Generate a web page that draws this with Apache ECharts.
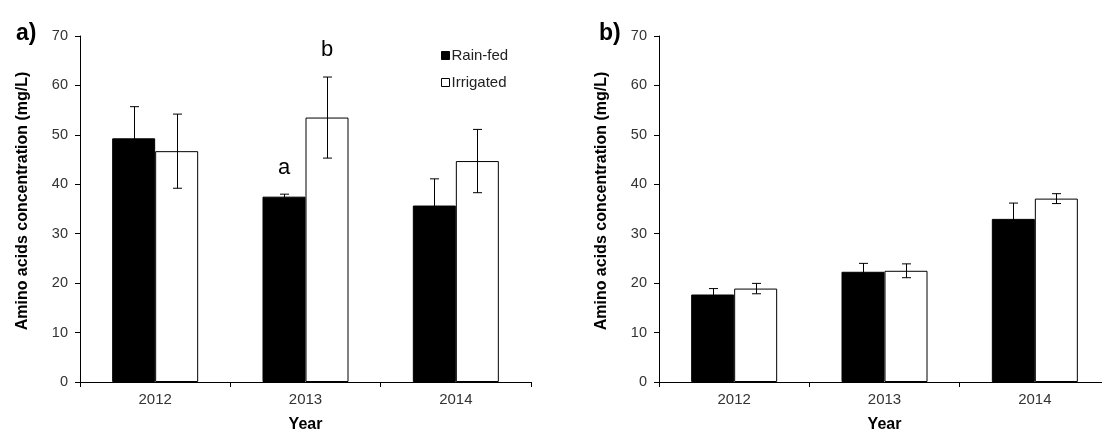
<!DOCTYPE html>
<html>
<head>
<meta charset="utf-8">
<script src="https://cdn.jsdelivr.net/npm/echarts@6/dist/echarts.min.js"></script>
<style>
  html, body { margin: 0; padding: 0; background: #fff; }
  #chart { width: 1102px; height: 431px; }
</style>
</head>
<body>
<div id="chart"></div>
<script>
// 数据
const years = ['2012', '2013', '2014'];
const rainfedA = [49.3, 37.5, 35.7];
const rainfedErrA = [6.4, 0.5, 5.4];
const irrigatedA = [46.7, 53.5, 44.7];
const irrigatedErrA = [7.5, 8.2, 6.4];
const rainfedB = [17.7, 22.3, 33.0];
const rainfedErrB = [1.2, 1.7, 3.2];
const irrigatedB = [18.9, 22.5, 37.1];
const irrigatedErrB = [1.05, 1.4, 1.0];
// 显著性字母 [年份索引, 值, 字母, 系列]
const lettersA = [[1, 43.3, 'a', 0], [1, 67.1, 'b', 1]];
const yTicks = [0, 10, 20, 30, 40, 50, 60, 70];

const chart = echarts.init(document.getElementById('chart'));
const FONT = 'Liberation Sans, Arial, sans-serif';
const BAR_W = 43;

function errorSeries(vals, errs, side, gi) {
  return {
    type: 'custom',
    xAxisIndex: gi,
    yAxisIndex: gi,
    z: 5,
    silent: true,
    renderItem: function (params, api) {
      const i = api.value(0);
      const top = api.coord([i, api.value(1) + api.value(2)]);
      const bot = api.coord([i, api.value(1) - api.value(2)]);
      const x = Math.round(top[0] + side * BAR_W / 2) + 0.5;
      const cap = 4.5;
      const st = { stroke: '#000', lineWidth: 1 };
      return {
        type: 'group',
        children: [
          { type: 'line', shape: { x1: x, y1: top[1], x2: x, y2: bot[1] }, style: st },
          { type: 'line', shape: { x1: x - cap, y1: top[1], x2: x + cap, y2: top[1] }, style: st },
          { type: 'line', shape: { x1: x - cap, y1: bot[1], x2: x + cap, y2: bot[1] }, style: st }
        ]
      };
    },
    encode: { x: 0, y: 1 },
    data: vals.map((v, i) => [i, v, errs[i]])
  };
}

function barSeries(name, vals, color, gi) {
  return {
    name: name,
    type: 'bar',
    xAxisIndex: gi,
    yAxisIndex: gi,
    barWidth: BAR_W,
    barGap: '0%',
    itemStyle: { color: color, borderColor: '#000', borderWidth: 1 },
    data: vals
  };
}

const axisLine = { show: true, lineStyle: { color: '#000', width: 1 } };

function xAxis(gi) {
  return {
    type: 'category',
    gridIndex: gi,
    data: years,
    name: 'Year',
    nameLocation: 'middle',
    nameGap: 35,
    nameTextStyle: { fontFamily: FONT, fontSize: 16, fontWeight: 'bold', color: '#000' },
    axisLine: axisLine,
    axisTick: { show: true, length: 5, inside: false, lineStyle: { color: '#000' } },
    axisLabel: { fontFamily: FONT, fontSize: 15, color: '#333', margin: 10 },
    splitLine: { show: false }
  };
}

function yAxis(gi) {
  return {
    type: 'value',
    gridIndex: gi,
    min: 0,
    max: 70,
    interval: 10,
    name: 'Amino acids concentration (mg/L)',
    nameLocation: 'middle',
    nameGap: 49,
    nameTextStyle: {
      fontFamily: FONT, fontSize: 16, fontWeight: 'bold', color: '#000',
      padding: [0, 0, 0, 16]
    },
    axisLine: axisLine,
    axisTick: { show: true, length: 5, lineStyle: { color: '#000' } },
    axisLabel: {
      fontFamily: FONT, fontSize: 14.5, color: '#333', margin: 12,
      formatter: v => yTicks.indexOf(v) >= 0 ? String(v) : ''
    },
    splitLine: { show: false }
  };
}

const option = {
  animation: false,
  backgroundColor: '#fff',
  title: [
    { text: 'a)', left: 11, top: 17, textStyle: { fontFamily: FONT, fontSize: 23, fontWeight: 'bold', color: '#000' } },
    { text: 'b)', left: 594, top: 17, textStyle: { fontFamily: FONT, fontSize: 23, fontWeight: 'bold', color: '#000' } }
  ],
  legend: {
    data: ['Rain-fed', 'Irrigated'],
    orient: 'vertical',
    left: 436,
    top: 43,
    itemWidth: 8,
    itemHeight: 8,
    itemGap: 12,
    icon: 'rect',
    textStyle: { fontFamily: FONT, fontSize: 15, color: '#222', padding: [0, 0, 0, -3] },
    itemStyle: { borderColor: '#000', borderWidth: 1 }
  },
  grid: [
    { left: 80, top: 36, width: 451, height: 346, outerBoundsMode: 'none' },
    { left: 659, top: 36, width: 451, height: 346, outerBoundsMode: 'none' }
  ],
  xAxis: [xAxis(0), xAxis(1)],
  yAxis: [yAxis(0), yAxis(1)],
  series: [
    barSeries('Rain-fed', rainfedA, '#000', 0),
    barSeries('Irrigated', irrigatedA, '#fff', 0),
    errorSeries(rainfedA, rainfedErrA, -1, 0),
    errorSeries(irrigatedA, irrigatedErrA, 1, 0),
    barSeries('Rain-fed', rainfedB, '#000', 1),
    barSeries('Irrigated', irrigatedB, '#fff', 1),
    errorSeries(rainfedB, rainfedErrB, -1, 1),
    errorSeries(irrigatedB, irrigatedErrB, 1, 1),
    {
      type: 'custom',
      xAxisIndex: 0,
      yAxisIndex: 0,
      silent: true,
      renderItem: function (params, api) {
        const p = api.coord([api.value(0), api.value(1)]);
        const side = lettersA[params.dataIndex][3] === 0 ? -1 : 1;
        return {
          type: 'text',
          x: p[0] + side * BAR_W / 2,
          y: p[1],
          style: {
            text: lettersA[params.dataIndex][2],
            fontFamily: FONT, fontSize: 22, fill: '#000',
            align: 'center', verticalAlign: 'middle'
          }
        };
      },
      encode: { x: 0, y: 1 },
      data: lettersA.map(d => [d[0], d[1]])
    }
  ]
};
chart.setOption(option);
</script>
</body>
</html>
